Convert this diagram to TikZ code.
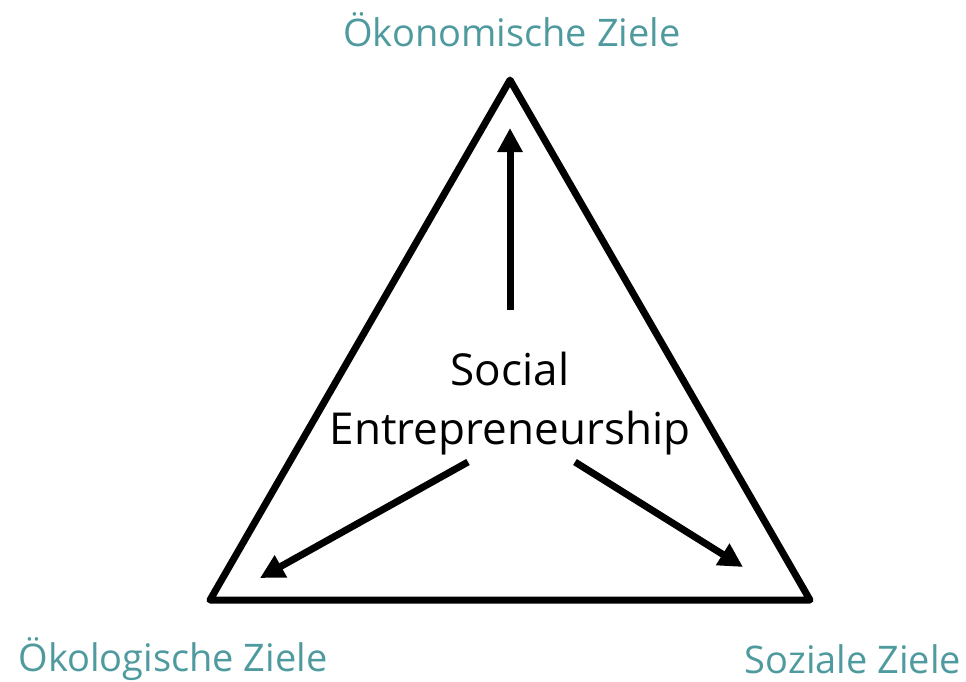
\documentclass[tikz,border=0pt]{standalone}
\usepackage{fontspec}
\setmainfont{Open Sans}
\usetikzlibrary{arrows.meta}
\definecolor{teal}{HTML}{4E9A9E}
\tikzset{
  side/.style={line width=7pt, line join=round, line cap=round},
  arr/.style={line width=7pt, -{Triangle[width=24pt,length=24pt]}},
  goal/.style={text=teal, font=\fontsize{38}{44}\selectfont, inner sep=0pt},
  center/.style={font=\fontsize{44}{59}\selectfont, align=center, inner sep=0pt}
}
\begin{document}
\begin{tikzpicture}[x=1pt,y=-1pt]
\useasboundingbox (0,0) rectangle (966,681);
\coordinate (top) at (510,80);
\coordinate (bl) at (210,600);
\coordinate (br) at (810,600);
\draw[side] (top) -- (br) -- (bl) -- cycle;
\node[center] (se) at (510,404) {Social\\Entrepreneurship};
\coordinate (s1) at (510,310);
\coordinate (e1) at (510,128);
\coordinate (s2) at (468,462);
\coordinate (e2) at (260,578);
\coordinate (s3) at (575,462);
\coordinate (e3) at (743,567);
\draw[arr] (s1) -- (e1);
\draw[arr] (s2) -- (e2);
\draw[arr] (s3) -- (e3);
\node[goal] (oek) at (512,30) {Ökonomische Ziele};
\node[goal] (oko) at (173,659) {Ökologische Ziele};
\node[goal] (soz) at (853,659) {Soziale Ziele};
\end{tikzpicture}
\end{document}
